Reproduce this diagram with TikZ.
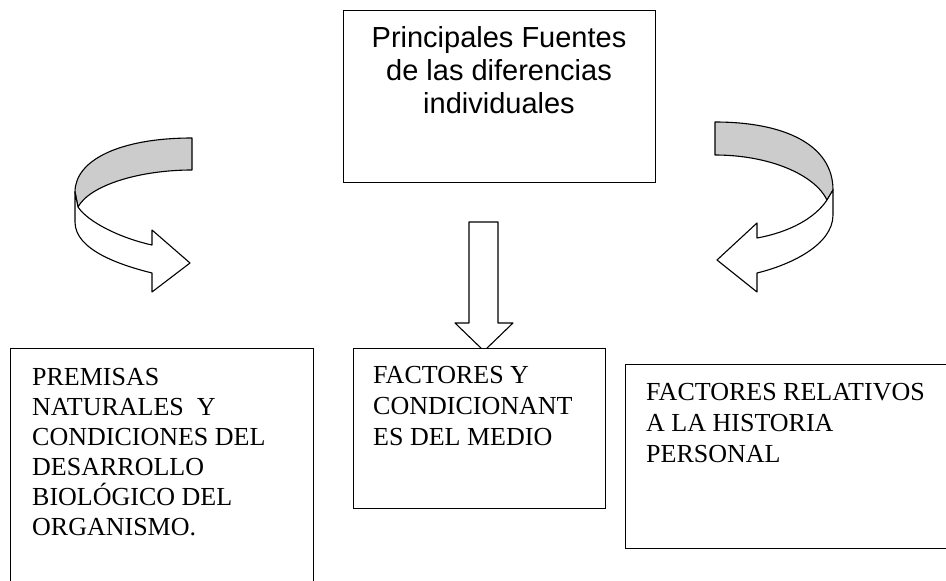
\documentclass[tikz,border=0pt]{standalone}
\usepackage{fontspec}
\setmainfont{Liberation Serif}
\setsansfont{Liberation Sans}
\definecolor{ribbon}{RGB}{204,204,204}
\begin{document}
\begin{tikzpicture}[x=1pt,y=-1pt,
  box/.style={draw=black, line width=1.3pt, fill=white, inner sep=0pt, anchor=north west},
  ribbonline/.style={draw=black, line width=1.1pt, line join=round},
  captxt/.style={inner sep=0pt, anchor=north west, align=left, font={\fontsize{26}{30}\selectfont}},
  toptxt/.style={inner sep=0pt, anchor=north, align=center, font={\sffamily\fontsize{29}{33}\selectfont}}
]
\useasboundingbox (0,0) rectangle (946,581);

% left curved ribbon arrow
\filldraw[ribbonline, fill=ribbon] (192,138) .. controls (120,138) and (75,160) .. (75,192)
  -- (78,207) .. controls (90,185) and (140,170) .. (192,170) -- cycle;
\filldraw[ribbonline, fill=white] (75,192) -- (75,222) .. controls (75,250) and (120,265) .. (152,273)
  -- (152,292) -- (190,263) -- (152,230) -- (152,245)
  .. controls (120,238) and (88,222) .. (78,207) -- cycle;

% right curved ribbon arrow
\filldraw[ribbonline, fill=ribbon] (715,122) .. controls (785,122) and (833,145) .. (833,190)
  -- (827,200) .. controls (815,175) and (770,155) .. (715,155) -- cycle;
\filldraw[ribbonline, fill=white] (833,190) -- (833,215) .. controls (833,245) and (790,265) .. (757,273)
  -- (757,292) -- (717,260) -- (757,223) -- (757,238)
  .. controls (790,232) and (815,218) .. (827,200) -- cycle;

% central block arrow
\filldraw[ribbonline, fill=white] (469,222) -- (498,222) -- (498,323) -- (513,323) -- (484,351)
  -- (455,323) -- (469,323) -- cycle;

% boxes
\node[box, minimum width=312pt, minimum height=172pt] (src) at (343,10) {};
\node[box, minimum width=303pt, minimum height=260pt] (nat) at (10,348) {};
\node[box, minimum width=252pt, minimum height=160pt] (med) at (353,348) {};
\node[box, minimum width=340pt, minimum height=184pt] (hist) at (625,364) {};

% texts
\node[toptxt] (srctxt) at (499,26) {Principales Fuentes\\de las diferencias\\individuales};
\node[captxt] (nattxt) at (32,368) {PREMISAS\\NATURALES\ \ Y\\CONDICIONES DEL\\DESARROLLO\\BIOLÓGICO DEL\\ORGANISMO.};
\node[captxt, font={\fontsize{26}{31}\selectfont}] (medtxt) at (373,366) {FACTORES Y\\CONDICIONANT\\ES DEL MEDIO};
\node[captxt, font={\fontsize{26}{31}\selectfont}] (histtxt) at (646,383) {FACTORES RELATIVOS\\A LA HISTORIA\\PERSONAL};
\end{tikzpicture}
\end{document}
